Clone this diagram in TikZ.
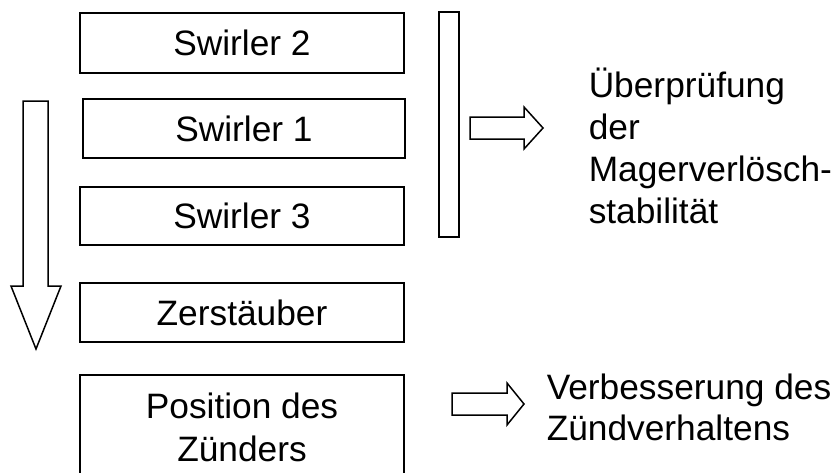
\documentclass[tikz,border=0pt]{standalone}
\usepackage{fontspec}
\setmainfont{Liberation Sans}
\begin{document}
\begin{tikzpicture}[x=1pt,y=-1pt,
  line width=1.5pt,
  txt/.style={font=\fontsize{35.3}{43}\selectfont, inner sep=0pt},
  sidetxt/.style={font=\fontsize{35.3}{42}\selectfont, inner sep=0pt, align=left, anchor=base west},
  boxA/.style={draw, line width=1.5pt, rectangle, inner sep=0pt, txt, align=center},
  blockarrow/.style={draw, line width=1.5pt, fill=white, line join=miter}]
\useasboundingbox (0,0) rectangle (836,472);
\fill[white] (0,0) rectangle (836,472);
% boxes
\node[boxA, minimum width=324pt, minimum height=60pt] (s2) at (242,43) {Swirler 2};
\node[boxA, minimum width=322pt, minimum height=59pt] (s1) at (244,128.5) {Swirler 1};
\node[boxA, minimum width=324pt, minimum height=58pt] (s3) at (242,216) {Swirler 3};
\node[boxA, minimum width=324pt, minimum height=59pt] (zer) at (242,312.5) {Zerstäuber};
\node[boxA, minimum width=324pt, minimum height=105pt] (pos) at (242,427.5) {Position des\\Zünders};
% vertical bar
\node[draw, line width=1.5pt, inner sep=0pt, minimum width=20pt, minimum height=225pt] (bar) at (449,124.5) {};
% down arrow
\draw[blockarrow] (23,101) -- (48,101) -- (48,286) -- (61,286) -- (36,349) -- (11,286) -- (23,286) -- cycle;
% right arrow 1
\draw[blockarrow] (470,117) -- (524,117) -- (524,107) -- (543,128) -- (524,149) -- (524,139) -- (470,139) -- cycle;
% right arrow 2
\draw[blockarrow] (452,393) -- (507,393) -- (507,383) -- (524,404) -- (507,425) -- (507,415) -- (452,415) -- cycle;
% texts (base anchor = last line baseline)
\node[sidetxt] (t1) at (588,223) {Überprüfung\\der\\Magerverlösch-\\stabilität};
\node[sidetxt, font=\fontsize{35.3}{41}\selectfont] (t2) at (546,440) {Verbesserung des\\Zündverhaltens};
\end{tikzpicture}
\end{document}
